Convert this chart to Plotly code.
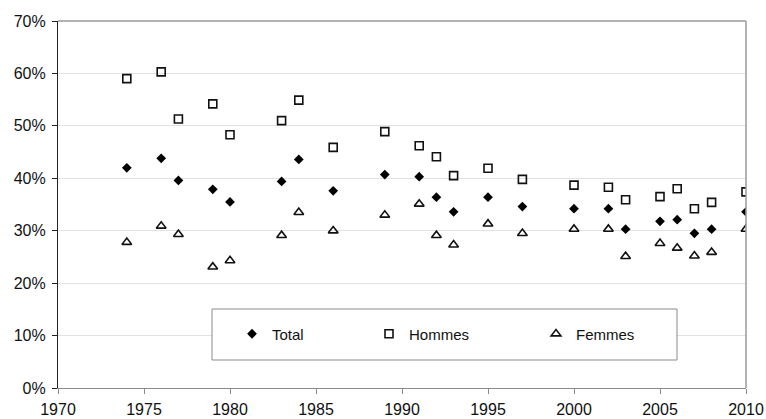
import plotly.graph_objects as go

years = [1974, 1976, 1977, 1979, 1980, 1983, 1984, 1986, 1989, 1991, 1992, 1993,
         1995, 1997, 2000, 2002, 2003, 2005, 2006, 2007, 2008, 2010]
total = [42.0, 43.8, 39.6, 37.9, 35.5, 39.4, 43.6, 37.6, 40.7, 40.3, 36.4, 33.6,
         36.4, 34.6, 34.2, 34.2, 30.3, 31.8, 32.1, 29.5, 30.3, 33.6]
hommes = [59.0, 60.3, 51.3, 54.2, 48.3, 51.0, 54.9, 45.9, 48.9, 46.2, 44.1, 40.5,
          41.9, 39.8, 38.7, 38.3, 35.9, 36.5, 38.0, 34.2, 35.4, 37.4]
femmes = [27.8, 30.9, 29.3, 23.1, 24.3, 29.1, 33.5, 30.0, 33.0, 35.1, 29.1, 27.3,
          31.3, 29.5, 30.3, 30.3, 25.1, 27.6, 26.7, 25.2, 25.9, 30.3]
y_ticks = [0, 10, 20, 30, 40, 50, 60, 70]
x_ticks = [1970, 1975, 1980, 1985, 1990, 1995, 2000, 2005, 2010]

W, H = 766, 419
ML, MR, MT, MB = 58, 20, 21, 31
PW, PH = W - ML - MR, H - MT - MB


def px(xp):
    return (xp - ML) / PW


def py(yp):
    return (H - MB - yp) / PH


FONT = "Liberation Sans, Arial, sans-serif"
INK = "#111111"

fig = go.Figure()
fig.add_trace(go.Scatter(
    x=years, y=[v / 100 for v in total], mode="markers", name="Total",
    marker=dict(symbol="diamond", size=7.5, color="black", line=dict(width=0)),
    legend="legend"))
fig.add_trace(go.Scatter(
    x=years, y=[v / 100 for v in hommes], mode="markers", name="Hommes",
    marker=dict(symbol="square-open", size=8, color=INK, line=dict(width=1.6, color=INK)),
    legend="legend2"))
fig.add_trace(go.Scatter(
    x=years, y=[v / 100 for v in femmes], mode="markers", name="Femmes",
    marker=dict(symbol="triangle-up-open", size=8.5, color=INK, line=dict(width=1.6, color=INK)),
    legend="legend3"))

# legend frame
fig.add_shape(type="rect", xref="paper", yref="paper",
              x0=px(212), x1=px(677), y0=py(360), y1=py(309),
              line=dict(color="#8a8a8a", width=1), fillcolor="white", layer="above")
# plot border (top & right)
fig.add_shape(type="line", xref="paper", yref="paper", x0=0, x1=1, y0=1, y1=1,
              line=dict(color="#9a9a9a", width=1.5), layer="above")
fig.add_shape(type="line", xref="paper", yref="paper", x0=1, x1=1, y0=0, y1=1,
              line=dict(color="#9a9a9a", width=1.5), layer="above")

leg_common = dict(orientation="h", bgcolor="rgba(0,0,0,0)", borderwidth=0,
                  font=dict(family=FONT, size=15, color=INK),
                  yanchor="middle", xanchor="left", y=py(334))
fig.update_layout(
    legend=dict(x=px(232), **leg_common),
    legend2=dict(x=px(369), **leg_common),
    legend3=dict(x=px(536), **leg_common),
)

fig.update_layout(
    width=W, height=H,
    margin=dict(l=ML, r=MR, t=MT, b=MB, pad=0, autoexpand=False),
    paper_bgcolor="white", plot_bgcolor="white",
    showlegend=True,
    font=dict(family=FONT, size=16, color=INK),
    xaxis=dict(range=[1970, 2010], tickvals=x_ticks, ticktext=[str(v) for v in x_ticks],
               automargin=False,
               showgrid=False, zeroline=False, showline=True, linecolor="#8a8a8a",
               linewidth=1, ticks="outside", ticklen=5, tickcolor="#8a8a8a",
               ticklabelstandoff=2,
               tickfont=dict(family=FONT, size=16, color=INK)),
    yaxis=dict(range=[0, 0.7], tickvals=[v / 100 for v in y_ticks],
               ticktext=[f"{v}%" for v in y_ticks], automargin=False,
               showgrid=True, gridcolor="#e2e2e2", gridwidth=1, zeroline=False,
               showline=True, linecolor="#222222", linewidth=1.2,
               ticks="outside", ticklen=5, tickcolor="#222222",
               ticklabelstandoff=3,
               tickfont=dict(family=FONT, size=16, color=INK)),
)

fig.write_html("out.html", config={"displayModeBar": False},
               post_script="document.body.style.margin='0';document.body.style.overflow='hidden';")
